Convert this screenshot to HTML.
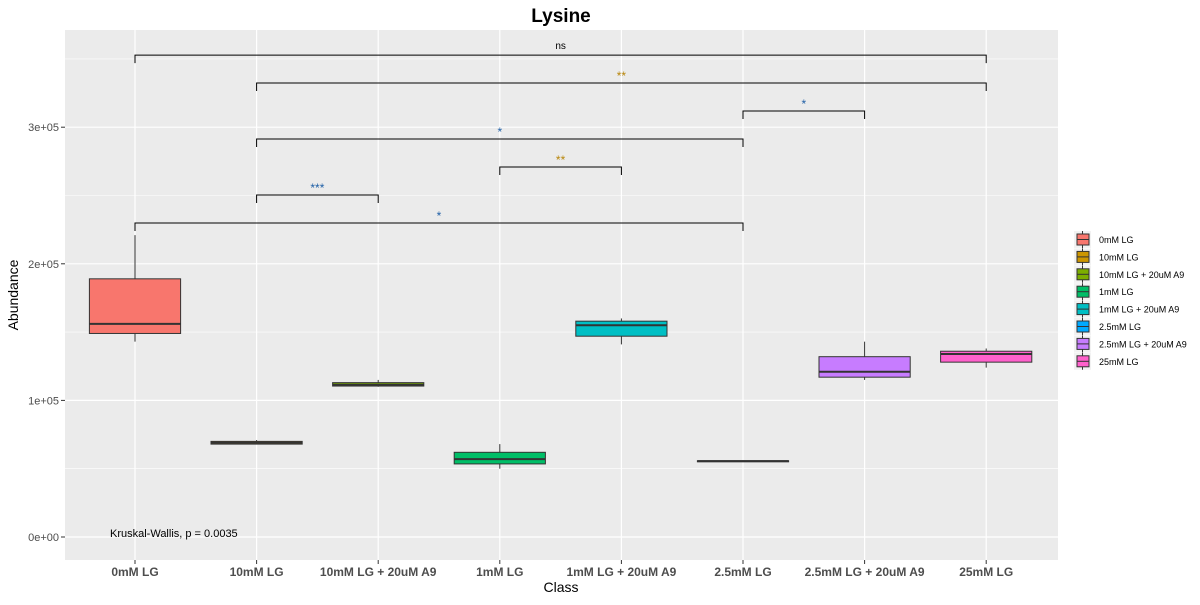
<!DOCTYPE html>
<html><head><meta charset="utf-8"><style>
body{margin:0;background:#fff;font-family:"Liberation Sans",Arial,sans-serif}
</style></head><body>
<svg id="chart" width="1200" height="600" xmlns="http://www.w3.org/2000/svg" font-family="Liberation Sans, Arial, sans-serif"></svg>
<script>
const categories=["0mM LG","10mM LG","10mM LG + 20uM A9","1mM LG","1mM LG + 20uM A9","2.5mM LG","2.5mM LG + 20uM A9","25mM LG"];
const colors=["#F8766D","#CD9600","#7CAE00","#00BE67","#00BFC4","#00A9FF","#C77CFF","#FF61CC"];
const whiskerLow=[143000,68000,110000,50000,141000,55000,115000,124000];
const q1=[149000,68000,110500,53500,147000,55200,117000,128000];
const median=[156000,69000,111500,57000,155000,55500,121000,134000];
const q3=[189000,70000,113000,62000,158000,55800,132000,136000];
const whiskerHigh=[221000,71000,115000,68000,160000,56000,143000,138000];
const yTicks=[0,100000,200000,300000];
const yTickLabels=["0e+00","1e+05","2e+05","3e+05"];
const bracketFrom=[0,1,5,1,3,1,0];
const bracketTo=[7,7,6,5,4,2,5];
const bracketY=[352800,332400,311900,291400,270900,250400,229900];
const bracketLabel=["ns","**","*","*","**","***","*"];

const svg=document.getElementById('chart');
const NS="http://www.w3.org/2000/svg";
const L=65,R=1058,T=30,B=560;
const step=121.6;
const x=i=>135+i*step;
const y=v=>537-v/100000*136.6;
function el(tag,attrs,parent){const e=document.createElementNS(NS,tag);for(const k in attrs)e.setAttribute(k,attrs[k]);(parent||svg).appendChild(e);return e;}
function txt(s,attrs){const e=el('text',attrs);e.textContent=s;return e;}

const panel=el('rect',{x:L,y:T,width:R-L,height:B-T,fill:'#EBEBEB'});


for(let v=-50000;v<=400000;v+=100000){const yy=y(v);if(yy>T&&yy<B)el('line',{x1:L,x2:R,y1:yy,y2:yy,stroke:'#fff','stroke-width':0.6});}
yTicks.forEach((v,i)=>{
  el('line',{x1:L,x2:R,y1:y(v),y2:y(v),stroke:'#fff','stroke-width':1.2});
  el('line',{x1:L-4,x2:L,y1:y(v),y2:y(v),stroke:'#333','stroke-width':1});
  const t=txt(yTickLabels[i],{x:L-6,y:y(v)+4,'text-anchor':'end','font-size':11,fill:'#4d4d4d'});
  
  
});
categories.forEach((c,i)=>{
  el('line',{x1:x(i),x2:x(i),y1:T,y2:B,stroke:'#fff','stroke-width':1.2});
  el('line',{x1:x(i),x2:x(i),y1:B,y2:B+4,stroke:'#333','stroke-width':1});
  const t=txt(c,{x:x(i),y:B+16,'text-anchor':'middle','font-size':12,'font-weight':'bold',fill:'#4d4d4d'});
  
  
});
const bw=step*0.75;
categories.forEach((c,i)=>{
  const g=el('g',{});
  
  
  el('line',{x1:x(i),x2:x(i),y1:y(whiskerHigh[i]),y2:y(q3[i]),stroke:'#333','stroke-width':1},g);
  el('line',{x1:x(i),x2:x(i),y1:y(q1[i]),y2:y(whiskerLow[i]),stroke:'#333','stroke-width':1},g);
  el('rect',{x:x(i)-bw/2,y:y(q3[i]),width:bw,height:Math.max(1,y(q1[i])-y(q3[i])),fill:colors[i],stroke:'#333','stroke-width':1},g);
  el('line',{x1:x(i)-bw/2,x2:x(i)+bw/2,y1:y(median[i]),y2:y(median[i]),stroke:'#333','stroke-width':2},g);
});
const labColor={"ns":"#000","*":"#1F5FA6","**":"#B8860B","***":"#1F5FA6"};
bracketY.forEach((v,i)=>{
  const g=el('g',{});
  
  
  const a=x(bracketFrom[i]),b=x(bracketTo[i]),yy=y(v);
  el('path',{d:`M${a},${yy+8}V${yy}H${b}V${yy+8}`,fill:'none',stroke:'#000','stroke-width':1},g);
  const isNs=bracketLabel[i]==="ns";
  const t=el('text',{x:(a+b)/2,y:isNs?yy-6:yy-3,'text-anchor':'middle','font-size':isNs?10:12,fill:labColor[bracketLabel[i]]},g);
  t.textContent=bracketLabel[i];
});
const kw=txt("Kruskal-Wallis, p = 0.0035",{x:110,y:537,'font-size':11,fill:'#000'});


const title=txt("Lysine",{x:561,y:22,'text-anchor':'middle','font-size':19,'font-weight':'bold',fill:'#000'});


const xt=txt("Class",{x:561,y:592,'text-anchor':'middle','font-size':14,fill:'#000'});


const yt=txt("Abundance",{x:18,y:295,'text-anchor':'middle','font-size':14,fill:'#000',transform:'rotate(-90 18 295)'});


categories.forEach((c,i)=>{
  const g=el('g',{});
  
  
  const yy=231+i*17.4;
  el('rect',{x:1074,y:yy,width:17,height:17,fill:'#F2F2F2'},g);
  el('line',{x1:1082.5,x2:1082.5,y1:yy,y2:yy+17,stroke:'#333'},g);
  el('rect',{x:1077,y:yy+3,width:12,height:11,fill:colors[i],stroke:'#333'},g);
  el('line',{x1:1077,x2:1089,y1:yy+8.5,y2:yy+8.5,stroke:'#333'},g);
  const t=el('text',{x:1099,y:yy+12,'font-size':9,fill:'#000'},g);
  t.textContent=c;
});
</script>
</body></html>
